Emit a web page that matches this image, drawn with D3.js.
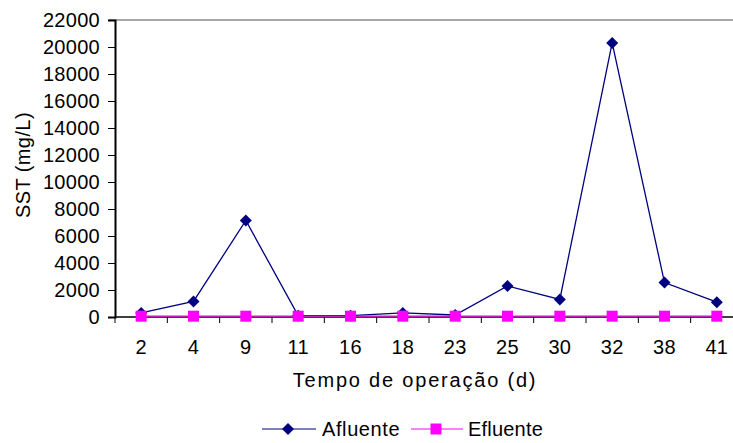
<!DOCTYPE html>
<html>
<head>
<meta charset="utf-8">
<script src="https://cdn.jsdelivr.net/npm/d3@7"></script>
<style>
  html, body { margin: 0; padding: 0; background: #fff; }
  svg { display: block; font-family: "Liberation Sans", Arial, sans-serif; }
</style>
</head>
<body>
<svg id="chart" width="733" height="443"></svg>
<script>
// Operating time (days) used as categories
const days = ["2", "4", "9", "11", "16", "18", "23", "25", "30", "32", "38", "41"];
// Total suspended solids, mg/L
const afluente = [300, 1150, 7150, 100, 100, 300, 150, 2300, 1300, 20300, 2550, 1100];
const efluente = [60, 60, 60, 60, 60, 60, 60, 60, 60, 60, 60, 60];
const yTicks = [0, 2000, 4000, 6000, 8000, 10000, 12000, 14000, 16000, 18000, 20000, 22000];
const seriesNames = ["Afluente", "Efluente"];

const svg = d3.select("#chart");
const plotLeft = 115, plotTop = 20, plotBottom = 317, plotRight = 743;
const fs = 20;

const x = d3.scaleBand().domain(days).range([plotLeft, plotRight]).padding(0);
const y = d3.scaleLinear().domain([0, 22000]).range([plotBottom, plotTop]);

// top border line
svg.append("line")
  .attr("x1", plotLeft - 6).attr("x2", 733)
  .attr("y1", plotTop).attr("y2", plotTop)
  .attr("stroke", "#8a8a8a").attr("stroke-width", 1.5);

// y axis
const yAxis = d3.axisLeft(y).tickValues(yTicks).tickSize(7).tickPadding(8)
  .tickFormat(d3.format("d"));
const gy = svg.append("g").attr("transform", `translate(${plotLeft},0)`).call(yAxis);
gy.select(".domain").attr("stroke", "#000").attr("stroke-width", 2);
gy.selectAll(".tick line").attr("stroke", "#000");
gy.selectAll(".tick text")
  .attr("font-size", fs).attr("fill", "#000")
  .attr("font-family", "Liberation Sans, Arial, sans-serif")
  .attr("letter-spacing", 0.3);

// x axis: ticks at category boundaries
const gx = svg.append("g").attr("transform", `translate(0,${plotBottom})`);
gx.append("line")
  .attr("x1", plotLeft).attr("x2", 733)
  .attr("stroke", "#000").attr("stroke-width", 1.5);
gx.selectAll("line.tk")
  .data(days.concat(["end"]))
  .join("line")
  .attr("class", "tk")
  .attr("x1", (d, i) => plotLeft + i * x.bandwidth())
  .attr("x2", (d, i) => plotLeft + i * x.bandwidth())
  .attr("y1", 0).attr("y2", 6)
  .attr("stroke", "#000").attr("stroke-width", 1);
gx.selectAll("text")
  .data(days)
  .join("text")
  .attr("x", d => x(d) + x.bandwidth() / 2)
  .attr("y", 30)
  .attr("dy", "0.35em")
  .attr("text-anchor", "middle")
  .attr("font-size", fs)
  .attr("letter-spacing", 0.3)
  .text(d => d);

// axis titles
svg.append("text")
  .attr("x", 415).attr("y", 380).attr("dy", "0.35em")
  .attr("text-anchor", "middle")
  .attr("font-size", fs)
  .attr("letter-spacing", 1.8)
  .text("Tempo de operação (d)");
svg.append("text")
  .attr("transform", "translate(23,165) rotate(-90)")
  .attr("dy", "0.35em")
  .attr("text-anchor", "middle")
  .attr("font-size", fs)
  .attr("letter-spacing", 0.4)
  .text("SST (mg/L)");

const cx = d => x(d) + x.bandwidth() / 2;
const line = d3.line().x(d => cx(d[0])).y(d => y(d[1]));
const diamondPath = d3.symbol().type(d3.symbolSquare).size(72)();

// Afluente series
svg.append("path")
  .datum(days.map((d, i) => [d, afluente[i]]))
  .attr("d", line)
  .attr("fill", "none").attr("stroke", "#000080").attr("stroke-width", 1.3);

// Efluente series
svg.append("path")
  .datum(days.map((d, i) => [d, efluente[i]]))
  .attr("d", line)
  .attr("fill", "none").attr("stroke", "#c020b0").attr("stroke-width", 1.5);

svg.selectAll("path.af")
  .data(days.map((d, i) => [d, afluente[i]]))
  .join("path")
  .attr("class", "af")
  .attr("transform", d => `translate(${cx(d[0])},${y(d[1])}) rotate(45)`)
  .attr("d", diamondPath)
  .attr("fill", "#000080");

const sq = 11;
svg.selectAll("rect.ef")
  .data(days.map((d, i) => [d, efluente[i]]))
  .join("rect")
  .attr("class", "ef")
  .attr("x", d => cx(d[0]) - sq / 2)
  .attr("y", d => y(d[1]) - sq / 2)
  .attr("width", sq).attr("height", sq)
  .attr("fill", "#ff00ff");

// legend
const leg = svg.append("g");
const ly = 429;
leg.append("line").attr("x1", 262).attr("x2", 316).attr("y1", ly).attr("y2", ly)
  .attr("stroke", "#000080").attr("stroke-width", 1);
leg.append("path")
  .attr("transform", `translate(288,${ly}) rotate(45)`)
  .attr("d", diamondPath)
  .attr("fill", "#000080");
leg.append("text").attr("x", 322).attr("y", ly).attr("dy", "0.35em")
  .attr("font-size", fs).attr("letter-spacing", 0.6).text(seriesNames[0]);
leg.append("line").attr("x1", 411).attr("x2", 463).attr("y1", ly).attr("y2", ly)
  .attr("stroke", "#ff00ff").attr("stroke-width", 1);
leg.append("rect").attr("x", 436 - sq / 2).attr("y", ly - sq / 2)
  .attr("width", sq).attr("height", sq).attr("fill", "#ff00ff");
leg.append("text").attr("x", 468).attr("y", ly).attr("dy", "0.35em")
  .attr("font-size", fs).attr("letter-spacing", 0.2).text(seriesNames[1]);
</script>
</body>
</html>
